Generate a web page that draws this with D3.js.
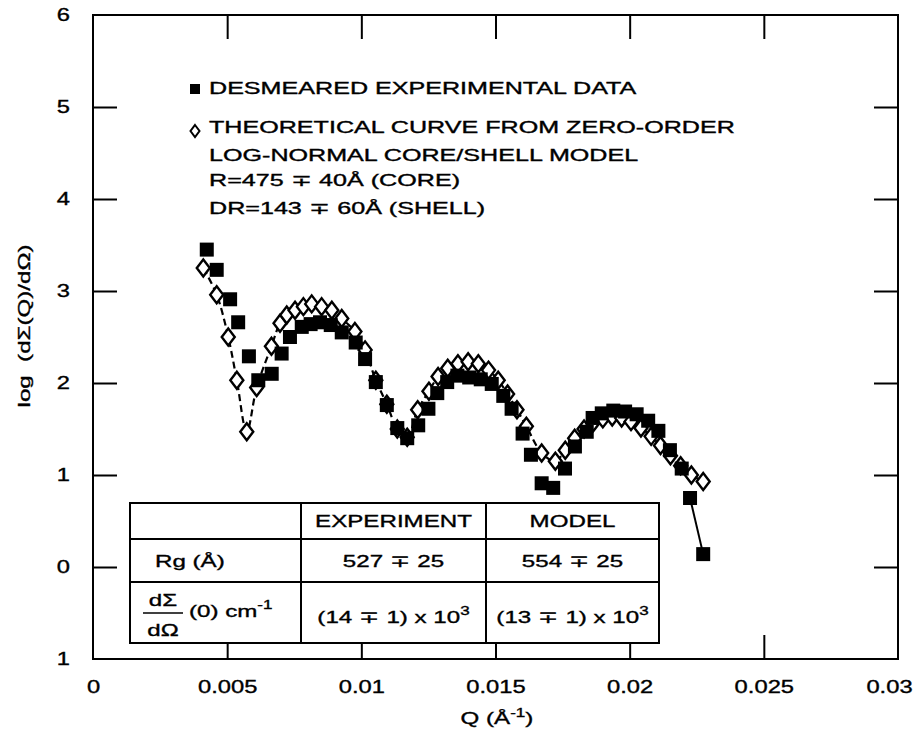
<!DOCTYPE html>
<html>
<head>
<meta charset="utf-8">
<script src="https://cdn.jsdelivr.net/npm/d3@7"></script>
<style>
body { margin: 0; background: #fff; }
text { font-family: "Liberation Sans", Arial, Helvetica, sans-serif; fill: #000; stroke: #000; stroke-width: 0.35px; }
</style>
</head>
<body>
<script>
// desmeared experimental data (Q in 1/Å, log of cross section)
const expQ = [0.00424, 0.00461, 0.00511, 0.00541, 0.00581, 0.00616, 0.00666, 0.00703, 0.00734, 0.00778,
    0.00811, 0.00846, 0.00886, 0.00927, 0.00979, 0.01014, 0.01054, 0.01095, 0.01134, 0.01171,
    0.01212, 0.01250, 0.01283, 0.01320, 0.01358, 0.01402, 0.01445, 0.01486, 0.01529, 0.01560,
    0.01601, 0.01632, 0.01672, 0.01715, 0.01759, 0.01796, 0.01840, 0.01862, 0.01896, 0.01939,
    0.01983, 0.02026, 0.02069, 0.02107, 0.02150, 0.02194, 0.02225, 0.02274];
const expLog = [3.45, 3.23, 2.91, 2.66, 2.29, 2.03, 2.10, 2.32, 2.50, 2.61,
    2.64, 2.66, 2.63, 2.55, 2.44, 2.26, 2.01, 1.76, 1.51, 1.40,
    1.54, 1.72, 1.89, 2.01, 2.08, 2.06, 2.04, 1.99, 1.86, 1.72,
    1.45, 1.22, 0.91, 0.86, 1.07, 1.31, 1.47, 1.62, 1.67, 1.70,
    1.69, 1.66, 1.59, 1.48, 1.27, 1.07, 0.75, 0.14];

// theoretical curve, zero-order log-normal core/shell model
const theoQ = [0.00411, 0.00461, 0.00504, 0.00536, 0.00573, 0.00610, 0.00665, 0.00697, 0.00722, 0.00753,
    0.00784, 0.00815, 0.00852, 0.00890, 0.00927, 0.00976, 0.01014, 0.01054, 0.01095, 0.01134,
    0.01171, 0.01210, 0.01252, 0.01286, 0.01322, 0.01360, 0.01398, 0.01436, 0.01474, 0.01510,
    0.01545, 0.01580, 0.01615, 0.01672, 0.01723, 0.01760, 0.01795, 0.01830, 0.01865,
    0.01900, 0.01935, 0.01970, 0.02005, 0.02042, 0.02080, 0.02115, 0.02152, 0.02190, 0.02230,
    0.02274];
const theoLog = [3.25, 2.96, 2.50, 2.03, 1.47, 1.95, 2.40, 2.65, 2.74, 2.79,
    2.83, 2.86, 2.83, 2.79, 2.70, 2.56, 2.36, 2.03, 1.77, 1.50,
    1.41, 1.71, 1.91, 2.07, 2.16, 2.21, 2.23, 2.21, 2.14, 2.03,
    1.88, 1.71, 1.53, 1.24, 1.15, 1.27, 1.40, 1.50, 1.57,
    1.61, 1.63, 1.62, 1.58, 1.51, 1.42, 1.32, 1.21, 1.10, 1.00,
    0.93];

const xTicks = [0, 0.005, 0.01, 0.015, 0.02, 0.025, 0.03];
const xTickLabels = ['0', '0.005', '0.01', '0.015', '0.02', '0.025', '0.03'];
const yTicks = [-1, 0, 1, 2, 3, 4, 5, 6];
const yTickLabels = ['1', '0', '1', '2', '3', '4', '5', '6'];

const legendLines = [
    'DESMEARED EXPERIMENTAL DATA',
    'THEORETICAL CURVE FROM ZERO-ORDER',
    'LOG-NORMAL CORE/SHELL MODEL',
    'R=475 \u2213 40Å (CORE)',
    'DR=143 \u2213 60Å (SHELL)'
];

const tableHead = ['', 'EXPERIMENT', 'MODEL'];
const rgRow = ['Rg (Å)', '527 \u2213 25', '554 \u2213 25'];
const i0Row = ['(14 \u2213 1) x 10', '(13 \u2213 1) x 10'];

const width = 915;
const height = 736;
const sx = 1.42; // the scan is stretched sideways, so is the lettering

const svg = d3.select('body')
    .append('svg')
    .attr('width', width)
    .attr('height', height);

const x = d3.scaleLinear().domain([0, 0.03]).range([93, 898]);
const y = d3.scaleLinear().domain([-1, 6]).range([659, 15]);

function stretch(sel, k) {
    sel.each(function () {
        const t = d3.select(this);
        const tx = +t.attr('x') || 0;
        t.attr('x', 0).attr('transform', `translate(${tx},0) scale(${k},1)`);
    });
}

// frame
svg.append('rect')
    .attr('x', x(0)).attr('y', y(6))
    .attr('width', x(0.03) - x(0)).attr('height', y(-1) - y(6))
    .attr('fill', 'none').attr('stroke', '#000').attr('stroke-width', 2);

// inward ticks on all four sides
const innerX = xTicks.slice(1, -1);
const innerY = yTicks.slice(1, -1);
const tickLen = 24;

function ticksOnly(g) {
    g.select('.domain').remove();
    g.selectAll('line').attr('stroke-width', 2);
}

svg.append('g').attr('transform', `translate(0,${y(-1)})`)
    .call(d3.axisBottom(x).tickValues(innerX).tickSize(-tickLen).tickFormat(''))
    .call(ticksOnly);
svg.append('g').attr('transform', `translate(0,${y(6)})`)
    .call(d3.axisTop(x).tickValues(innerX).tickSize(-tickLen).tickFormat(''))
    .call(ticksOnly);
svg.append('g').attr('transform', `translate(${x(0)},0)`)
    .call(d3.axisLeft(y).tickValues(innerY).tickSize(-tickLen).tickFormat(''))
    .call(ticksOnly);
svg.append('g').attr('transform', `translate(${x(0.03)},0)`)
    .call(d3.axisRight(y).tickValues(innerY).tickSize(-tickLen).tickFormat(''))
    .call(ticksOnly);

// tick labels
const xLab = svg.append('g').attr('transform', `translate(0,${y(-1)})`)
    .call(d3.axisBottom(x).tickValues(xTicks).tickSize(0).tickPadding(21)
        .tickFormat((d, i) => xTickLabels[i]));
xLab.select('.domain').remove();
xLab.selectAll('text').style('font-size', '18px').call(stretch, 1.32);
// the last label sits pulled in from the right edge of the page
xLab.selectAll('text').filter((d) => d === 0.03).attr('x', -9).call(stretch, 1.32);

const yLab = svg.append('g').attr('transform', `translate(${x(0)},0)`)
    .call(d3.axisLeft(y).tickValues(yTicks).tickSize(0).tickPadding(23)
        .tickFormat((d, i) => yTickLabels[i]));
yLab.select('.domain').remove();
yLab.selectAll('text').style('font-size', '18px').call(stretch, 1.32);

// axis titles
const xTitle = svg.append('text')
    .attr('transform', `translate(497,724) scale(${sx},1)`)
    .attr('text-anchor', 'middle')
    .style('font-size', '17px');
xTitle.append('tspan').text('Q (Å');
xTitle.append('tspan').attr('dy', -7).style('font-size', '12px').text('-1');
xTitle.append('tspan').attr('dy', 7).text(')');

svg.append('text')
    .attr('transform', `translate(30,326) rotate(-90) scale(${sx},1)`)
    .attr('text-anchor', 'middle')
    .style('font-size', '17px')
    .style('white-space', 'pre')
    .text('log  (dΣ(Q)/dΩ)');

// data
const theo = theoQ.map((q, i) => ({ q: q, v: theoLog[i] }));
const expt = expQ.map((q, i) => ({ q: q, v: expLog[i] }));

const line = d3.line()
    .x((d) => x(d.q))
    .y((d) => y(d.v))
    .curve(d3.curveCatmullRom);

svg.append('path')
    .datum(theo)
    .attr('d', line)
    .attr('fill', 'none')
    .attr('stroke', '#000')
    .attr('stroke-width', 2.2)
    .attr('stroke-dasharray', '7,4');

svg.append('path')
    .datum(expt.filter((d) => d.q > 0.0222))
    .attr('d', line)
    .attr('fill', 'none')
    .attr('stroke', '#000')
    .attr('stroke-width', 2);

const diamond = 'M0,-8.5L6.5,0L0,8.5L-6.5,0Z';

svg.selectAll('.theo')
    .data(theo)
    .enter()
    .append('path')
    .attr('class', 'theo')
    .attr('d', diamond)
    .attr('transform', (d) => `translate(${x(d.q)},${y(d.v)})`)
    .attr('fill', '#fff')
    .attr('stroke', '#000')
    .attr('stroke-width', 2.4);

svg.selectAll('.expt')
    .data(expt)
    .enter()
    .append('rect')
    .attr('class', 'expt')
    .attr('x', (d) => x(d.q) - 7)
    .attr('y', (d) => y(d.v) - 7)
    .attr('width', 14)
    .attr('height', 14)
    .attr('fill', '#000');

// legend
const legend = svg.append('g');
const legendY = [94, 133, 161, 186, 214];
legend.append('rect')
    .attr('x', 190).attr('y', 84).attr('width', 10).attr('height', 10)
    .attr('fill', '#000');
legend.append('path')
    .attr('d', 'M0,-6L4.5,0L0,6L-4.5,0Z')
    .attr('transform', 'translate(195,131)')
    .attr('fill', '#fff').attr('stroke', '#000').attr('stroke-width', 2);
legend.selectAll('text')
    .data(legendLines)
    .enter()
    .append('text')
    .attr('transform', (d, i) => `translate(209,${legendY[i]}) scale(1.57,1)`)
    .style('font-size', '16px')
    .text((d) => d);

// table
const colX = [130, 301, 486, 659];
const rowY = [503, 539, 582, 643];
const table = svg.append('g');
table.append('rect')
    .attr('x', colX[0]).attr('y', rowY[0])
    .attr('width', colX[3] - colX[0]).attr('height', rowY[3] - rowY[0])
    .attr('fill', '#fff').attr('stroke', '#000').attr('stroke-width', 2);
table.selectAll('.hline')
    .data(rowY.slice(1, -1))
    .enter().append('line')
    .attr('x1', colX[0]).attr('x2', colX[3])
    .attr('y1', (d) => d).attr('y2', (d) => d)
    .attr('stroke', '#000').attr('stroke-width', 2);
table.selectAll('.vline')
    .data(colX.slice(1, -1))
    .enter().append('line')
    .attr('x1', (d) => d).attr('x2', (d) => d)
    .attr('y1', rowY[0]).attr('y2', rowY[3])
    .attr('stroke', '#000').attr('stroke-width', 2);

const cellMid = (c) => (colX[c] + colX[c + 1]) / 2;

tableHead.forEach((t, c) => {
    table.append('text')
        .attr('transform', `translate(${cellMid(c)},527) scale(${sx},1)`)
        .attr('text-anchor', 'middle')
        .style('font-size', '17px')
        .text(t);
});

table.append('text')
    .attr('transform', `translate(155,567) scale(${sx},1)`)
    .style('font-size', '17px')
    .text(rgRow[0]);
[1, 2].forEach((c) => {
    table.append('text')
        .attr('transform', `translate(${cellMid(c)},567) scale(${sx},1)`)
        .attr('text-anchor', 'middle')
        .style('font-size', '17px')
        .text(rgRow[c]);
});

// dΣ/dΩ (0) cm^-1
table.append('text')
    .attr('transform', `translate(163,606) scale(${sx},1)`)
    .attr('text-anchor', 'middle')
    .style('font-size', '17px')
    .text('dΣ');
table.append('line')
    .attr('x1', 143).attr('x2', 183).attr('y1', 613).attr('y2', 613)
    .attr('stroke', '#000').attr('stroke-width', 1.5);
table.append('text')
    .attr('transform', `translate(163,636) scale(${sx},1)`)
    .attr('text-anchor', 'middle')
    .style('font-size', '17px')
    .text('dΩ');
const cm = table.append('text')
    .attr('transform', `translate(189,617) scale(${sx},1)`)
    .style('font-size', '17px');
cm.append('tspan').text('(0) cm');
cm.append('tspan').attr('dy', -8).style('font-size', '12px').text('-1');

i0Row.forEach((t, i) => {
    const tx = table.append('text')
        .attr('transform', `translate(${cellMid(i + 1)},623) scale(${sx},1)`)
        .attr('text-anchor', 'middle')
        .style('font-size', '17px');
    tx.append('tspan').text(t);
    tx.append('tspan').attr('dy', -8).style('font-size', '12px').text('3');
});
</script>
</body>
</html>
